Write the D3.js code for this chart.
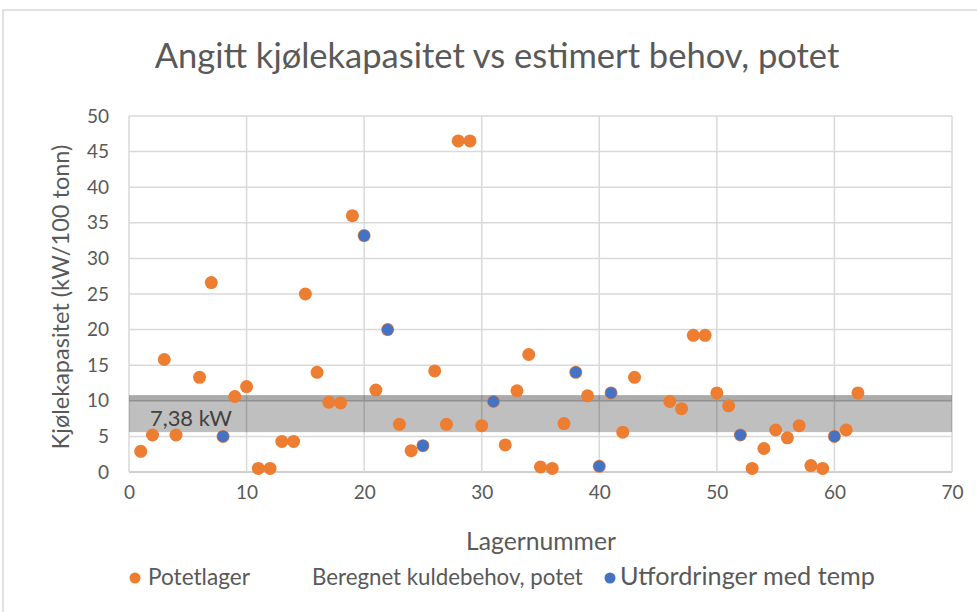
<!DOCTYPE html>
<html>
<head>
<meta charset="utf-8">
<script src="https://cdn.jsdelivr.net/npm/d3@7"></script>
<style>
  body { margin: 0; background: #fff; }
  text { font-family: Lato, "Open Sans", sans-serif; fill: #595959; }
</style>
</head>
<body>
<svg id="chart" width="977" height="612"></svg>
<script>
// data
var lagerNr = [1, 2, 3, 4, 6, 7, 8, 9, 10, 11, 12, 13, 14, 15, 16, 17, 18, 19, 20, 21, 22, 23,
  24, 25, 26, 27, 28, 29, 30, 31, 32, 33, 34, 35, 36, 37, 38, 39, 40, 41, 42, 43,
  46, 47, 48, 49, 50, 51, 52, 53, 54, 55, 56, 57, 58, 59, 60, 61, 62];
var kapasitet = [2.9, 5.2, 15.8, 5.2, 13.3, 26.6, 5.0, 10.6, 12.0, 0.5, 0.5, 4.3, 4.3, 25.0, 14.0, 9.8, 9.7, 36.0, 33.2, 11.5, 20.0, 6.7,
  3.0, 3.7, 14.2, 6.7, 46.5, 46.5, 6.5, 9.9, 3.8, 11.4, 16.5, 0.7, 0.5, 6.8, 14.0, 10.7, 0.8, 11.1, 5.6, 13.3,
  9.9, 8.9, 19.2, 19.2, 11.1, 9.3, 5.2, 0.5, 3.3, 5.9, 4.8, 6.5, 0.9, 0.5, 5.0, 5.9, 11.1];

// lagre med utfordringer (blå)
var utfordringNr = [8, 20, 22, 25, 31, 38, 40, 41, 52, 60];
var utfordringVal = [5.0, 33.2, 20.0, 3.7, 9.9, 14.0, 0.8, 11.1, 5.2, 5.0];

// beregnet kuldebehov (grått felt)
var behovLabel = "7,38 kW";
var behovLav = 5.6;
var behovHoy = 10.8;
var behovKant = 9.9;

var xTicks = [0, 10, 20, 30, 40, 50, 60, 70];
var yTicks = [0, 5, 10, 15, 20, 25, 30, 35, 40, 45, 50];

var svg = d3.select('#chart');

// ramme rundt diagrammet
svg.append('rect')
  .attr('x', 3).attr('y', 10).attr('width', 980).attr('height', 610)
  .attr('fill', '#fff').attr('stroke', '#d9d9d9').attr('stroke-width', 1.5);

var x = d3.scaleLinear().domain([0, 70]).range([129, 952]);
var y = d3.scaleLinear().domain([0, 50]).range([472, 116]);

// rutenett
var grid = svg.append('g');
grid.selectAll('.hline').data(yTicks).enter().append('line')
  .attr('x1', x(0)).attr('x2', x(70))
  .attr('y1', function (d) { return y(d); }).attr('y2', function (d) { return y(d); })
  .attr('stroke', function (d) { return d === 0 ? '#bfbfbf' : '#d9d9d9'; })
  .attr('stroke-width', 1.5);
grid.selectAll('.vline').data(xTicks).enter().append('line')
  .attr('y1', y(0)).attr('y2', y(50))
  .attr('x1', function (d) { return x(d); }).attr('x2', function (d) { return x(d); })
  .attr('stroke', '#d9d9d9').attr('stroke-width', 1.5);

// beregnet kuldebehov
svg.append('rect')
  .attr('x', x(0)).attr('width', x(70) - x(0))
  .attr('y', y(behovHoy)).attr('height', y(behovLav) - y(behovHoy))
  .attr('fill', '#000').attr('fill-opacity', 0.25);
svg.append('rect')
  .attr('x', x(0)).attr('width', x(70) - x(0))
  .attr('y', y(behovHoy)).attr('height', y(behovKant) - y(behovHoy))
  .attr('fill', '#000').attr('fill-opacity', 0.1);

// tekst
function tilpass(sel, bredde) {
  var w = sel.node().getComputedTextLength();
  var fs = parseFloat(sel.attr('font-size'));
  sel.attr('font-size', fs * bredde / w);
}

var behovTekst = svg.append('text')
  .attr('x', 150).attr('y', y(7.38) + 7)
  .attr('font-size', 20).style('fill', '#404040')
  .text(behovLabel);
tilpass(behovTekst, 82);

// akser
var xAxis = d3.axisBottom(x).tickValues(xTicks).tickSize(0).tickPadding(14);
var yAxis = d3.axisLeft(y).tickValues(yTicks).tickSize(0).tickPadding(20);
var gx = svg.append('g').attr('transform', 'translate(0,' + y(0) + ')').call(xAxis);
var gy = svg.append('g').attr('transform', 'translate(' + x(0) + ',0)').call(yAxis);
[gx, gy].forEach(function (g) {
  g.select('.domain').remove();
  g.selectAll('text').attr('font-size', 19).attr('font-family', 'Lato, sans-serif').style('fill', '#595959');
});

// punkter
svg.append('g').selectAll('circle').data(lagerNr).enter().append('circle')
  .attr('cx', function (d) { return x(d); })
  .attr('cy', function (d, i) { return y(kapasitet[i]); })
  .attr('r', 6.5)
  .attr('fill', '#ed7d31');
svg.append('g').selectAll('circle').data(utfordringNr).enter().append('circle')
  .attr('cx', function (d) { return x(d); })
  .attr('cy', function (d, i) { return y(utfordringVal[i]); })
  .attr('r', 5.8)
  .attr('fill', '#4472c4');

var tittel = svg.append('text')
  .attr('x', 497).attr('y', 68).attr('text-anchor', 'middle')
  .attr('font-size', 30)
  .text('Angitt kjølekapasitet vs estimert behov, potet');
tilpass(tittel, 685);

var xTittel = svg.append('text')
  .attr('x', 541).attr('y', 550).attr('text-anchor', 'middle')
  .attr('font-size', 20).text('Lagernummer');
tilpass(xTittel, 150);

var yTittel = svg.append('text')
  .attr('transform', 'translate(69,297) rotate(-90)').attr('text-anchor', 'middle')
  .attr('font-size', 20).text('Kjølekapasitet (kW/100 tonn)');
tilpass(yTittel, 305);

// forklaring
var legend = [
  { navn: 'Potetlager', farge: '#ed7d31', x: 135, tx: 148, w: 102 },
  { navn: 'Beregnet kuldebehov, potet', farge: null, x: 0, tx: 312, w: 271 },
  { navn: 'Utfordringer med temp', farge: '#4472c4', x: 610, tx: 620, w: 255 }
];
legend.forEach(function (l) {
  if (l.farge) {
    svg.append('circle').attr('cx', l.x).attr('cy', 578).attr('r', 5.5).attr('fill', l.farge);
  }
  var t = svg.append('text').attr('x', l.tx).attr('y', 585).attr('font-size', 19).text(l.navn);
  tilpass(t, l.w);
});
</script>
</body>
</html>
